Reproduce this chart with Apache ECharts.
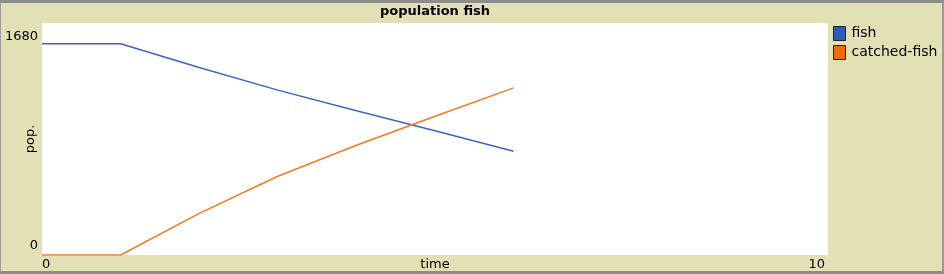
<!DOCTYPE html>
<html>
<head>
<meta charset="utf-8">
<script src="https://cdn.jsdelivr.net/npm/echarts@6/dist/echarts.min.js"></script>
<style>
html,body{margin:0;padding:0;background:#e1e1b5;}
#wrap{position:relative;width:944px;height:274px;}
#chart{width:944px;height:274px;}
#frame{position:absolute;left:0;top:0;width:944px;height:274px;box-sizing:border-box;border-top:3px solid #8c8c8c;border-bottom:3px solid #8c8c8c;border-left:1px solid #9a9a9a;border-right:2px solid #9a9a9a;pointer-events:none;}
</style>
</head>
<body>
<div id="wrap"><div id="chart"></div><div id="frame"></div></div>
<script>
const times = [0, 1, 2, 3, 4, 5, 6];
const fish = [1530, 1530, 1358, 1194, 1045, 900, 751];
const catchedFish = [0, 0, 301, 570, 795, 1005, 1210];
const xTicks = [0, 10];
const yTicks = [0, 1680];

const chart = echarts.init(document.getElementById('chart'), null, {renderer: 'canvas'});
const font = 'DejaVu Sans';
chart.setOption({
  backgroundColor: '#e1e1b5',
  animation: false,
  title: {
    text: 'population fish',
    left: 435, top: 5, padding: 0, textAlign: 'center',
    textStyle: {fontFamily: font, fontSize: 13, fontWeight: 'bold', color: '#000'}
  },
  legend: {
    orient: 'vertical', left: 833, top: 26, padding: 0, itemGap: 4,
    itemWidth: 12, itemHeight: 14, icon: 'rect',
    textStyle: {fontFamily: font, fontSize: 14, color: '#000', padding: [0,0,0,1]},
    data: [
      {name: 'fish', itemStyle: {color: '#2f5cb8', borderColor: '#222', borderWidth: 1}},
      {name: 'catched-fish', itemStyle: {color: '#f06a10', borderColor: '#222', borderWidth: 1}}
    ]
  },
  grid: {left: 42, right: 116, top: 23, bottom: 19, containLabel: false, outerBoundsMode: 'none',
    show: true, backgroundColor: '#ffffff', borderWidth: 0},
  xAxis: {
    type: 'value', min: xTicks[0], max: xTicks[1], interval: xTicks[1] - xTicks[0],
    name: 'time', nameLocation: 'middle', nameGap: 3, nameMoveOverlap: false,
    nameTextStyle: {fontFamily: font, fontSize: 13, color: '#000', verticalAlign: 'top'},
    axisLine: {show: false}, axisTick: {show: false}, splitLine: {show: false},
    axisLabel: {margin: 3, fontFamily: font, fontSize: 13, color: '#000', alignMinLabel: 'left', alignMaxLabel: 'right',
      padding: [0, 3, 0, 0], formatter: v => String(v)}
  },
  yAxis: {
    type: 'value', min: yTicks[0], max: yTicks[1], interval: yTicks[1] - yTicks[0],
    name: 'pop.', nameLocation: 'middle', nameGap: 5, nameRotate: 90, nameMoveOverlap: false,
    nameTextStyle: {fontFamily: font, fontSize: 13, color: '#000', verticalAlign: 'bottom', padding: [0, 0, 0, 0]},
    axisLine: {show: false}, axisTick: {show: false}, splitLine: {show: false},
    axisLabel: {margin: 4, fontFamily: font, fontSize: 13, color: '#000', formatter: v => String(v),
      verticalAlignMinLabel: 'bottom', verticalAlignMaxLabel: 'top', padding: [7, 0, 3, 0]}
  },
  series: [
    {name: 'fish', type: 'line', data: times.map((t, i) => [t, fish[i]]), showSymbol: false, symbol: 'none',
      lineStyle: {color: '#3d63c6', width: 1.5}, itemStyle: {color: '#2f5cb8'}},
    {name: 'catched-fish', type: 'line', data: times.map((t, i) => [t, catchedFish[i]]), showSymbol: false, symbol: 'none',
      lineStyle: {color: '#f37a22', width: 1.5}, itemStyle: {color: '#f06a10'}}
  ]
});
</script>
</body>
</html>
